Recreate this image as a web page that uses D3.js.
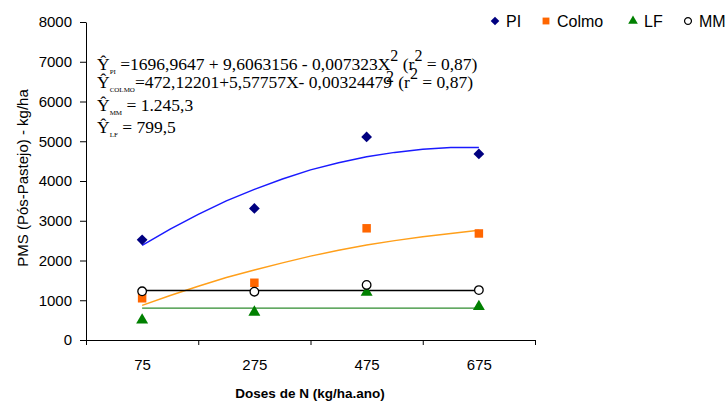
<!DOCTYPE html>
<html>
<head>
<meta charset="utf-8">
<script src="https://cdn.jsdelivr.net/npm/d3@7"></script>
<style>
  body { margin: 0; background: #fff; }
  .axis text { font-family: Arial, "Liberation Sans", sans-serif; font-size: 15px; fill: #000; }
  .axis path, .axis line { stroke: #000; }
</style>
</head>
<body>
<script>
'use strict';

const doses = [75, 275, 475, 675];
const piValues = [2520, 3310, 5110, 4680];
const colmoValues = [1050, 1440, 2810, 2680];
const lfValues = [500, 700, 1200, 840];
const mmValues = [1225, 1215, 1385, 1255];

// fitted curves
const trendDoses = [75, 125, 175, 225, 275, 325, 375, 425, 475, 525, 575, 625, 675];
const piTrend = [2380, 2790, 3160, 3500, 3790, 4050, 4280, 4460, 4610, 4720, 4800, 4840, 4845];
const colmoTrend = [870, 1120, 1350, 1570, 1760, 1940, 2110, 2260, 2390, 2500, 2600, 2680, 2760];
const mmMean = 1245.3;
const lfMean = 799.5;

const yTicks = [0, 1000, 2000, 3000, 4000, 5000, 6000, 7000, 8000];

const margin = {top: 22, left: 86};
const width = 449;
const height = 318;

const svg = d3.select('body').append('svg')
    .attr('width', 727)
    .attr('height', 403);

const g = svg.append('g')
    .attr('transform', 'translate(' + margin.left + ',' + margin.top + ')');

const x = d3.scaleLinear().domain([-25, 775]).range([0, width]);
const y = d3.scaleLinear().domain([0, 8000]).range([height, 0]);

// y axis
g.append('g')
    .attr('class', 'axis')
    .call(d3.axisLeft(y).tickValues(yTicks).tickFormat(d3.format('d'))
      .tickSize(6).tickPadding(8).tickSizeOuter(0));

// x axis: tick marks at category edges, labels at category centres
g.append('g')
    .attr('class', 'axis')
    .attr('transform', 'translate(0,' + height + ')')
    .call(d3.axisBottom(x).tickValues([-25, 175, 375, 575, 775]).tickSize(5).tickFormat('').tickSizeOuter(0));
g.append('g')
    .attr('class', 'axis')
    .attr('transform', 'translate(0,' + height + ')')
    .call(d3.axisBottom(x).tickValues(doses).tickSize(0).tickPadding(19).tickFormat(d3.format('d')))
    .call(a => a.select('.domain').remove());

svg.append('text')
    .attr('x', 310)
    .attr('y', 398)
    .attr('text-anchor', 'middle')
    .style('font', 'bold 13.5px Arial, "Liberation Sans", sans-serif')
    .text('Doses de N (kg/ha.ano)');

svg.append('text')
    .attr('transform', 'translate(28,178) rotate(-90)')
    .attr('text-anchor', 'middle')
    .style('font', '15px Arial, "Liberation Sans", sans-serif')
    .text('PMS (Pós-Pastejo) - kg/ha');

// trend lines
const line = d3.line().x(d => x(d[0])).y(d => y(d[1]));
g.append('path')
    .datum(trendDoses.map((d, i) => [d, piTrend[i]]))
    .attr('fill', 'none').attr('stroke', '#1a1aff').attr('stroke-width', 1.5)
    .attr('d', line);
g.append('path')
    .datum(trendDoses.map((d, i) => [d, colmoTrend[i]]))
    .attr('fill', 'none').attr('stroke', '#ff9f1a').attr('stroke-width', 1.5)
    .attr('d', line);
g.append('path')
    .datum([[doses[0], mmMean], [doses[3], mmMean]])
    .attr('fill', 'none').attr('stroke', '#000').attr('stroke-width', 1.3)
    .attr('d', line);
g.append('path')
    .datum([[doses[0], lfMean], [doses[3], lfMean]])
    .attr('fill', 'none').attr('stroke', '#2e8b2e').attr('stroke-width', 1.3)
    .attr('d', line);

// markers
const series = [
  {name: 'PI', values: piValues, sym: d3.symbolSquare, rot: 45, size: 58, fill: '#000080', stroke: 'none'},
  {name: 'Colmo', values: colmoValues, sym: d3.symbolSquare, rot: 0, size: 72, fill: '#ff6600', stroke: 'none'},
  {name: 'LF', values: lfValues, sym: d3.symbolTriangle, rot: 0, size: 62, fill: '#008000', stroke: 'none'},
  {name: 'MM', values: mmValues, sym: d3.symbolCircle, rot: 0, size: 58, fill: '#fff', stroke: '#000'},
];

series.forEach((s) => {
  g.selectAll(null)
      .data(s.values)
      .join('path')
      .attr('transform', (d, i) => 'translate(' + x(doses[i]) + ',' + y(d) + ') rotate(' + s.rot + ')')
      .attr('d', d3.symbol().type(s.sym).size(s.size))
      .attr('fill', s.fill)
      .attr('stroke', s.stroke)
      .attr('stroke-width', 1.3);
});

// legend
const legendX = [495, 546, 633, 688];
series.forEach((s, i) => {
  const lg = svg.append('g').attr('transform', 'translate(' + legendX[i] + ',21)');
  lg.append('path')
      .attr('transform', 'rotate(' + s.rot + ')')
      .attr('d', d3.symbol().type(s.sym).size(s.size * 0.65))
      .attr('fill', s.fill)
      .attr('stroke', s.stroke)
      .attr('stroke-width', 1.2);
  lg.append('text')
      .attr('x', 11)
      .attr('y', 6)
      .style('font', '16px Arial, "Liberation Sans", sans-serif')
      .text(s.name);
});

// equations
const eq = svg.append('g').style('font-family', '"Liberation Serif", "Times New Roman", serif');

function eqLine(yPos, sub, rest) {
  const t = eq.append('text').attr('x', 97).attr('y', yPos).style('font-size', '17.5px');
  t.append('tspan').text('Ŷ');
  t.append('tspan').attr('dy', 4).style('font-size', '7px').text(sub);
  t.append('tspan').attr('dy', -4).text(rest);
  return t;
}

const l1 = eqLine(70, 'PI', ' =1696,9647 + 9,6063156 - 0,007323X');
l1.append('tspan').attr('dy', -9).style('font-size', '16px').text('2');
l1.append('tspan').attr('dy', 9).text(' (r');
l1.append('tspan').attr('dy', -9).style('font-size', '16px').text('2');
l1.append('tspan').attr('dy', 9).text(' =  0,87)');

const l2 = eqLine(88, 'COLMO', '=472,12201+5,57757X- 0,00324479');
l2.append('tspan').attr('dx', -6).attr('dy', -6).style('font-size', '16px').text('2');
l2.append('tspan').attr('dy', 6).text('   (r');
l2.append('tspan').attr('dy', -9).style('font-size', '16px').text('2');
l2.append('tspan').attr('dy', 9).text(' = 0,87)');

eqLine(111, 'MM', '  = 1.245,3');
eqLine(133, 'LF', ' = 799,5');
</script>
</body>
</html>
